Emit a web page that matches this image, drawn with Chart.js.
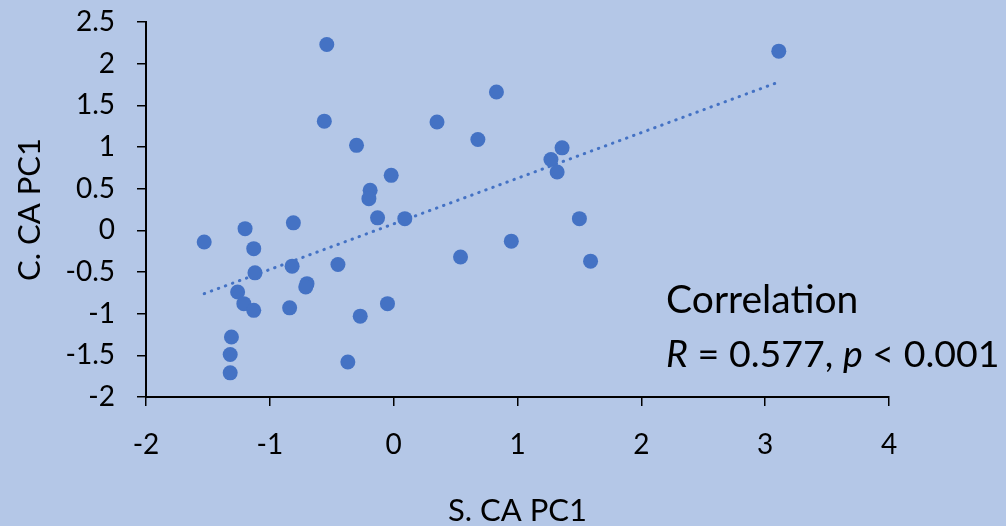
<!DOCTYPE html>
<html><head><meta charset="utf-8">
<script src="https://cdn.jsdelivr.net/npm/chart.js@4.4.1/dist/chart.umd.min.js"></script>
<style>html,body{margin:0;padding:0;background:#B4C7E7;}#wrap{width:1006px;height:526px;position:relative;}</style>
</head><body><div id="wrap"><canvas id="c"></canvas></div>
<script>
// S. CA PC1 (x) and C. CA PC1 (y) values
const sX = [-1.53,-1.20,-0.81,-1.13,-1.12,-0.82,-0.45,-0.70,-0.71,-1.26,-1.21,-1.13,-0.84,-0.27,-0.05,-1.31,-1.32,-1.32,-0.37,-0.13,0.09,-0.54,-0.56,-0.30,0.35,0.83,0.68,1.36,1.27,1.32,-0.02,-0.19,-0.20,1.50,0.95,0.54,1.59,3.11];
const cY = [-0.14,0.02,0.09,-0.22,-0.51,-0.43,-0.41,-0.64,-0.68,-0.74,-0.88,-0.96,-0.93,-1.03,-0.88,-1.28,-1.49,-1.71,-1.58,0.15,0.14,2.23,1.31,1.02,1.30,1.66,1.09,0.99,0.85,0.70,0.66,0.48,0.38,0.14,-0.13,-0.32,-0.37,2.15];
// fitted trend line end points
const trendX = [-1.53, 3.11];
const trendY = [-0.76, 1.78];
const xTicks = [-2,-1,0,1,2,3,4];
const yTicks = [-2,-1.5,-1,-0.5,0,0.5,1,1.5,2,2.5];
const xTitle = 'S. CA PC1';
const yTitle = 'C. CA PC1';
const noteTitle = 'Correlation';
const noteR = '0.577';
const noteP = '0.001';
const noteAt = {x: 2.2, y: -0.99};

const pts = sX.map((v,i)=>({x:v, y:cY[i]}));
const trend = trendX.map((v,i)=>({x:v, y:trendY[i]}));
const FONT = 'Lato';

const notePlugin = {
  id: 'note',
  afterDraw(chart){
    const ctx = chart.ctx, xs = chart.scales.x, ys = chart.scales.y;
    const x0 = xs.getPixelForValue(noteAt.x), y0 = ys.getPixelForValue(noteAt.y);
    ctx.save();
    ctx.fillStyle = '#000';
    ctx.textBaseline = 'alphabetic';
    ctx.textAlign = 'left';
    ctx.font = '39px ' + FONT;
    ctx.fillText(noteTitle, x0, y0);
    const segs = [['R', true], [' = ' + noteR + ', ', false], ['p', true], [' < ' + noteP, false]];
    let x = x0; const y1 = y0 + 54;
    for (const [t, it] of segs) {
      ctx.font = (it ? 'italic ' : '') + '37.5px ' + FONT;
      ctx.fillText(t, x, y1);
      x += ctx.measureText(t).width;
    }
    ctx.restore();
  }
};

new Chart(document.getElementById('c'), {
  type: 'scatter',
  data: {
    datasets: [
      { data: pts, backgroundColor: '#4472C4', borderWidth: 0, pointRadius: 7.5, pointHoverRadius: 7.5 },
      { type: 'line', data: trend, showLine: true, pointRadius: 0, borderColor: '#4472C4', borderWidth: 3,
        borderDash: [0.5, 7], borderCapStyle: 'round', fill: false }
    ]
  },
  options: {
    responsive: true, maintainAspectRatio: false, animation: false,
    layout: { padding: { top: 22, right: 117, left: 0, bottom: 0 } },
    plugins: { legend: { display: false }, tooltip: { enabled: false } },
    scales: {
      x: {
        type: 'linear', min: -2, max: 4,
        afterBuildTicks: s => { s.ticks = xTicks.map(v => ({value: v})); },
        afterFit: s => { s.height = 129; s.paddingLeft = 0; s.paddingRight = 0; },
        border: { color: '#000', width: 2 },
        grid: { drawOnChartArea: false, drawTicks: true, tickLength: 9, color: '#000', lineWidth: 1.5 },
        ticks: { color: '#000', padding: 22, font: { family: FONT, size: 28 }, callback: v => String(v), maxRotation: 0 },
        title: { display: true, text: xTitle, color: '#000', font: { family: FONT, size: 31, lineHeight: 1 }, padding: { top: 0, bottom: 0 } }
      },
      y: {
        type: 'linear', min: -2, max: 2.5,
        afterBuildTicks: s => { s.ticks = yTicks.map(v => ({value: v})); },
        afterFit: s => { s.width = 146; s.paddingTop = 0; s.paddingBottom = 0; },
        border: { color: '#000', width: 2 },
        grid: { drawOnChartArea: false, drawTicks: true, tickLength: 9, color: '#000', lineWidth: 1.5 },
        ticks: { color: '#000', padding: 22, font: { family: FONT, size: 28 }, callback: v => String(v) },
        title: { display: true, text: yTitle, color: '#000', font: { family: FONT, size: 31, lineHeight: 1 }, padding: { top: 14, bottom: 0 } }
      }
    }
  },
  plugins: [notePlugin]
});
</script></body></html>
